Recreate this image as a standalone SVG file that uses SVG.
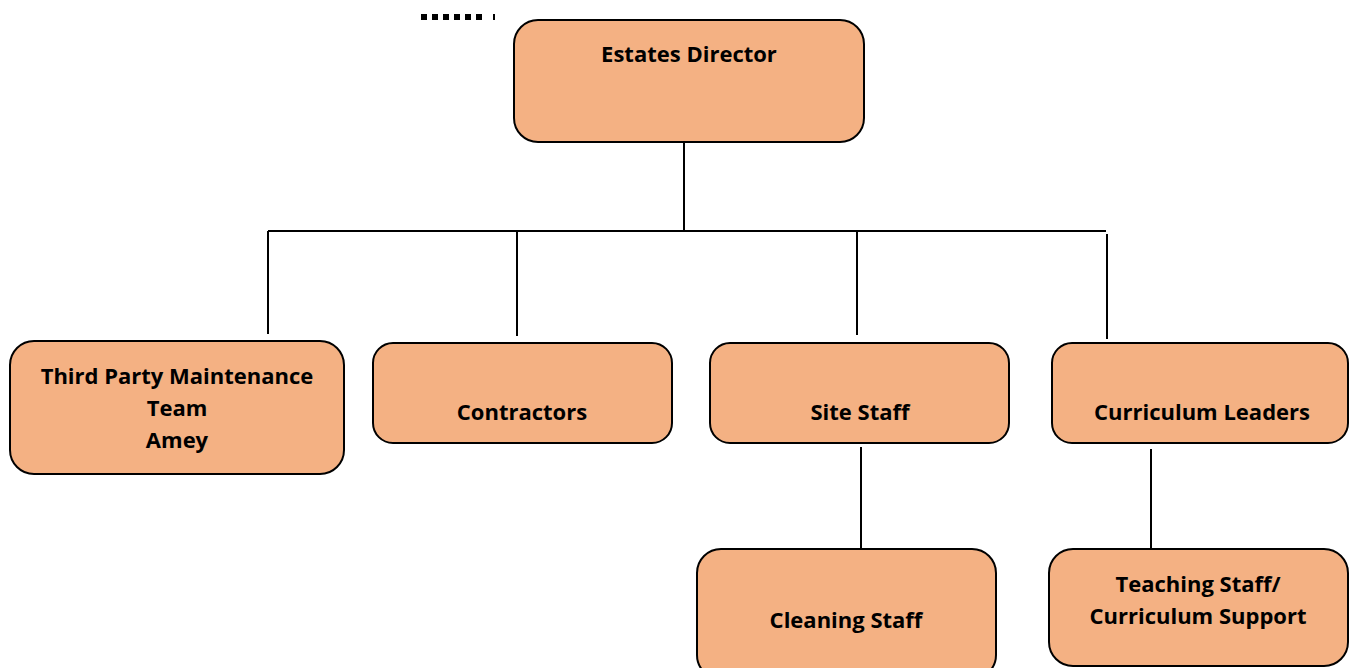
<svg xmlns="http://www.w3.org/2000/svg" width="1349" height="668" viewBox="0 0 1349 668">
<style>
.box{fill:#F4B183;stroke:#000;stroke-width:2}
.t{font-family:"Open Sans","Liberation Sans",sans-serif;font-weight:bold;font-size:22px;fill:#000;text-anchor:middle}
.c{stroke:#000;stroke-width:2;fill:none}
</style>
<rect width="1349" height="668" fill="#fff"/>
<g id="dots"><line x1="421" y1="17" x2="482" y2="17" stroke="#000" stroke-width="6" stroke-dasharray="6,5"/><rect x="493" y="14" width="2" height="6" fill="#000"/></g>
<g id="connectors">
<path class="c" d="M684 128V231M268 231H1106M268 231V334M517 231V336M857 231V335M1107 234V339M861 447V549M1151 449V548"/>
</g>
<g id="estates-director"><rect class="box" x="514" y="20" width="350" height="122" rx="24"/><text class="t" x="689" y="62">Estates Director</text></g>
<g id="third-party"><rect class="box" x="10" y="341" width="334" height="133" rx="24"/><text class="t" x="177" y="384">Third Party Maintenance</text><text class="t" x="177" y="416">Team</text><text class="t" x="177" y="448">Amey</text></g>
<g id="contractors"><rect class="box" x="373" y="343" width="299" height="100" rx="20"/><text class="t" x="522" y="420">Contractors</text></g>
<g id="site-staff"><rect class="box" x="710" y="343" width="299" height="100" rx="20"/><text class="t" x="860" y="420">Site Staff</text></g>
<g id="curriculum-leaders"><rect class="box" x="1052" y="343" width="296" height="100" rx="20"/><text class="t" x="1202" y="420">Curriculum Leaders</text></g>
<g id="cleaning-staff"><rect class="box" x="697" y="549" width="299" height="130" rx="24"/><text class="t" x="846" y="628">Cleaning Staff</text></g>
<g id="teaching-staff"><rect class="box" x="1049" y="549" width="299" height="117" rx="24"/><text class="t" x="1198" y="592">Teaching Staff/</text><text class="t" x="1198" y="624">Curriculum Support</text></g>
</svg>
